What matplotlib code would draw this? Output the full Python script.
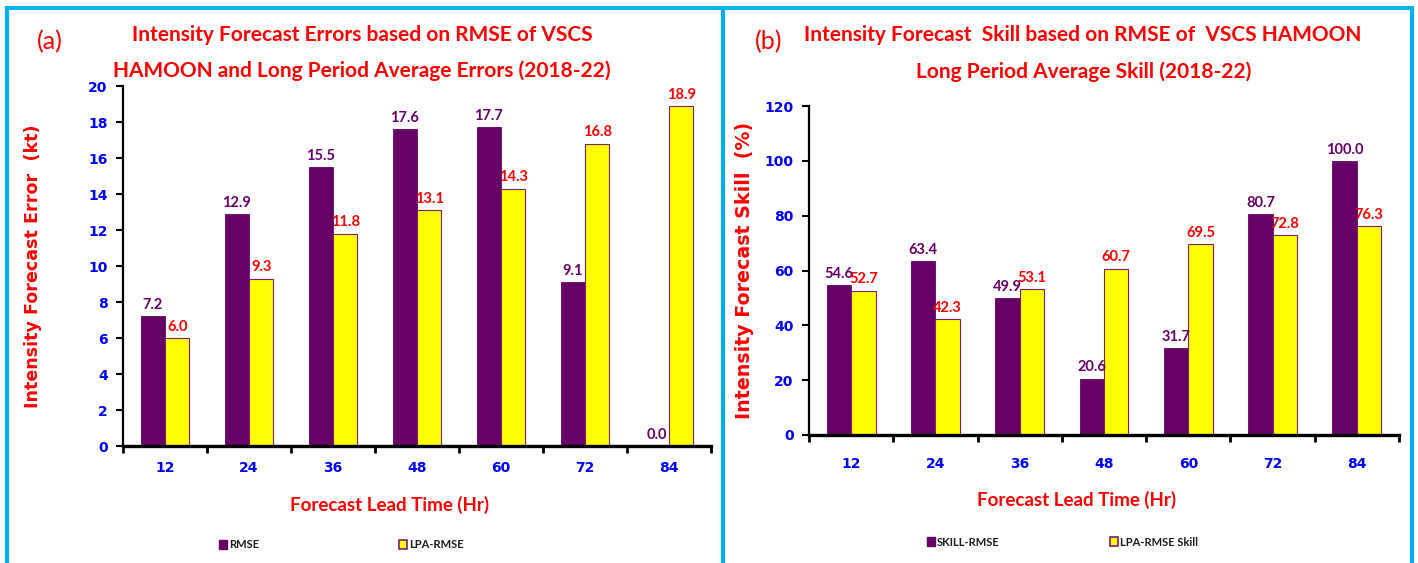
import matplotlib
matplotlib.use("Agg")
import matplotlib.pyplot as plt
from matplotlib.patches import Patch
from matplotlib.lines import Line2D
import numpy as np

# ---- data ----
lead_times = ["12", "24", "36", "48", "60", "72", "84"]
rmse = [7.2, 12.9, 15.5, 17.6, 17.7, 9.1, 0.0]
lpa_rmse = [6.0, 9.3, 11.8, 13.1, 14.3, 16.8, 18.9]
skill_rmse = [54.6, 63.4, 49.9, 20.6, 31.7, 80.7, 100.0]
lpa_skill = [52.7, 42.3, 53.1, 60.7, 69.5, 72.8, 76.3]

NARROW = ["Lato", "DejaVu Sans"]
WIDE = ["DejaVu Sans"]
PURPLE = "#660066"
YELLOW = "#FFFF00"
RED = "#FF0000"
BLUE = "#0000FF"
BORDER = "#00B0F0"

W, H = 1418, 563
fig = plt.figure(figsize=(W / 100, H / 100), dpi=100)


def fx(px):
    return px / W


def fy(py):
    return 1 - py / H


def make_panel(rect, s1, s2, l1, l2, ymax, ystep, ylabel, ylabel_x, ylabel_size,
               xpad, xlabel_xy, legend_anchor, colspace):
    ax = fig.add_axes(rect)
    x = np.arange(len(lead_times))
    w = 0.29
    b1 = ax.bar(x - w / 2, s1, w, color=PURPLE, edgecolor=PURPLE, linewidth=0.6, label=l1)
    b2 = ax.bar(x + w / 2, s2, w, color=YELLOW, edgecolor="#7A1F7A", linewidth=0.8, label=l2)
    ax.bar_label(b1, fmt="%.1f", padding=3, color=PURPLE, fontsize=10.5,
                 fontweight="bold", family=NARROW)
    ax.bar_label(b2, fmt="%.1f", padding=3, color=RED, fontsize=10.5,
                 fontweight="bold", family=NARROW)
    ax.set_xlim(-0.5, len(lead_times) - 0.5)
    ax.set_ylim(0, ymax)
    ax.set_yticks(np.arange(0, ymax + 0.01, ystep))
    ax.set_xticks(x)
    ax.set_xticklabels(lead_times)
    ax.set_xticks(np.arange(-0.5, len(lead_times), 1.0), minor=True)
    ax.tick_params(axis="x", which="major", length=0, pad=xpad, labelcolor=BLUE,
                   labelsize=10)
    ax.tick_params(axis="x", which="minor", length=5, width=2, direction="out")
    ax.tick_params(axis="y", length=5, width=1.5, direction="out", pad=6,
                   labelcolor=BLUE, labelsize=10)
    for lab in ax.get_xticklabels() + ax.get_yticklabels():
        lab.set_fontweight("bold")
        lab.set_family(WIDE)
    for s in ("top", "right"):
        ax.spines[s].set_visible(False)
    ax.spines["bottom"].set_linewidth(2.4)
    ax.spines["left"].set_linewidth(1.6)
    fig.text(fx(ylabel_x), (rect[1] + rect[1] + rect[3]) / 2, ylabel, rotation=90,
             ha="center", va="center", color=RED, fontsize=ylabel_size,
             fontweight="bold", family=WIDE)
    fig.text(fx(xlabel_xy[0]), fy(xlabel_xy[1]), "Forecast Lead Time (Hr)",
             ha="center", va="center", color=RED, fontsize=13.5, fontweight="bold",
             family=NARROW)
    h = [Patch(facecolor=PURPLE, edgecolor=PURPLE),
         Patch(facecolor=YELLOW, edgecolor="#7A1F7A", linewidth=1.2)]
    leg = fig.legend(h, [l1, l2], loc="center left",
                     bbox_to_anchor=(fx(legend_anchor[0]), fy(legend_anchor[1])),
                     ncol=2, frameon=False, handlelength=0.7, handleheight=0.9,
                     handletextpad=0.2, columnspacing=colspace, borderpad=0,
                     borderaxespad=0,
                     prop={"family": NARROW, "weight": "bold", "size": 8})
    for t in leg.get_texts():
        t.set_color("#1a1a1a")
    return ax


make_panel([fx(123), fy(446), fx(711) - fx(123), fy(86) - fy(446)],
           rmse, lpa_rmse, "RMSE", "LPA-RMSE", 20, 2,
           "Intensity Forecast Error  (kt)", 33, 12.6, 11, (390, 505), (219, 545), 12.6)
make_panel([fx(809), fy(435), fx(1399) - fx(809), fy(106) - fy(435)],
           skill_rmse, lpa_skill, "SKILL-RMSE", "LPA-RMSE Skill", 120, 20,
           "Intensity Forecast Skill  (%)", 745, 13.7, 16, (1077, 500), (927, 542), 9.9)

# titles
title_kw = dict(ha="center", va="center", color=RED, fontsize=15, fontweight="bold",
                family=NARROW)
fig.text(fx(362), fy(35), "Intensity Forecast Errors based on RMSE of VSCS", **title_kw)
fig.text(fx(362), fy(71), "HAMOON and Long Period Average Errors (2018-22)", **title_kw)
fig.text(fx(1083), fy(35), "Intensity Forecast  Skill based on RMSE of  VSCS HAMOON", **title_kw)
fig.text(fx(1084), fy(72), "Long Period Average Skill (2018-22)", **title_kw)
fig.text(fx(50), fy(42), "(a)", ha="center", va="center", color=RED, fontsize=18,
         family=NARROW)
fig.text(fx(769), fy(42), "(b)", ha="center", va="center", color=RED, fontsize=18,
         family=NARROW)

# panel borders
lw = 3.0
for xs, ys in [((fx(5), fx(1414)), (fy(8), fy(8))),
               ((fx(7), fx(7)), (fy(8), fy(563))),
               ((fx(722.5), fx(722.5)), (fy(8), fy(563))),
               ((fx(1412), fx(1412)), (fy(8), fy(563)))]:
    fig.add_artist(Line2D(xs, ys, color=BORDER, linewidth=lw, solid_capstyle="butt"))

fig.savefig("out.png", dpi=100, facecolor="white")
